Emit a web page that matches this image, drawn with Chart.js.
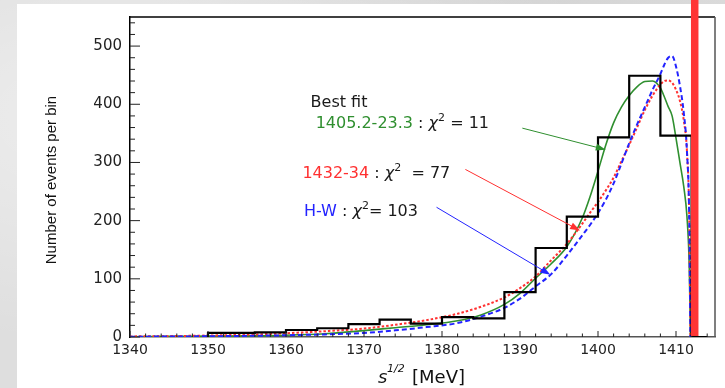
<!DOCTYPE html>
<html>
<head>
<meta charset="utf-8">
<script src="https://cdn.jsdelivr.net/npm/chart.js@4.4.1/dist/chart.umd.min.js"></script>
<style>
  html, body { margin: 0; padding: 0; }
  body {
    width: 725px; height: 388px; overflow: hidden; position: relative;
    background:
      radial-gradient(ellipse at 20% 30%, rgba(255,255,255,0.5), rgba(255,255,255,0) 60%),
      radial-gradient(ellipse at 70% 10%, rgba(200,200,200,0.5), rgba(200,200,200,0) 50%),
      #dedede;
  }
  #panel { position: absolute; left: 17px; top: 4px; width: 708px; height: 384px; background: #fff; }
  #chart { position: absolute; left: 0; top: 0; }
</style>
</head>
<body>
<div id="panel"></div>
<canvas id="chart" width="725" height="388"></canvas>
<script>
// ===========================================================
// DATA
// ===========================================================
const xTicks = [1340, 1350, 1360, 1370, 1380, 1390, 1400, 1410];
const yTicks = [0, 100, 200, 300, 400, 500];

// histogram: bin edges and counts per bin
const histEdges = [1350, 1356, 1360, 1364, 1368, 1372, 1376, 1380, 1384, 1388, 1392, 1396, 1400, 1404, 1408, 1412, 1414];
const histCounts = [7, 8, 12, 15, 22, 30, 23, 34, 32, 77, 153, 207, 343, 449, 346, 0];

// fit curves, sampled at the same masses
const curveX = [1340, 1345, 1350, 1355, 1360, 1365, 1370, 1374, 1378, 1382, 1385, 1388, 1390, 1392, 1394, 1396, 1398, 1399,
  1400, 1401, 1402, 1403, 1404, 1405, 1406, 1407, 1408, 1408.5, 1409, 1409.5, 1410, 1410.5, 1411, 1411.4, 1411.7, 1411.85];
const greenFit = [0.5, 1, 1.5, 2, 3, 5.5, 11, 16, 21, 28, 38, 56, 75, 101, 126, 155, 205, 242,
  285, 330, 368, 395, 415, 430, 439, 440, 428, 413, 396, 380, 342, 300, 258, 208, 120, 0];
const redFit = [1, 1.5, 2.5, 4, 6.5, 10, 14.5, 21, 29, 40, 52, 68, 84, 104, 132, 160, 195, 214,
  232, 252, 274, 302, 330, 360, 390, 415, 434, 440, 441, 437, 425, 406, 372, 320, 200, 0];
const blueFit = [0.5, 0.8, 1.2, 2, 3, 4.5, 7, 11.5, 17, 24, 35, 50, 66, 87, 108, 140, 175, 193,
  213, 236, 264, 298, 333, 365, 395, 425, 452, 468, 480, 483, 465, 432, 385, 320, 200, 0];

const thresholdX = 1412.4; // red vertical line

// ---------- COLOURS / FONTS ----------
const GREEN = "#2f8f2f";
const RED = "#ff3030";
const BLUE = "#2323ff";
const FONT = '"DejaVu Sans"';

// ---------- ANNOTATIONS (anchors in data units) ----------
const labels = [
  { x: 1363.15, y: 403, parts: [{ t: "Best fit" }] },
  { x: 1363.8, y: 366, parts: [{ t: "1405.2-23.3", c: GREEN }, { t: " : " }, { t: "χ", i: true }, { t: "2", sup: true }, { t: " = 11" }] },
  { x: 1362.1, y: 280, parts: [{ t: "1432-34", c: RED }, { t: " : " }, { t: "χ", i: true }, { t: "2", sup: true }, { t: "  = 77" }] },
  { x: 1362.3, y: 215, parts: [{ t: "H-W", c: BLUE }, { t: " : " }, { t: "χ", i: true }, { t: "2", sup: true }, { t: "= 103" }] },
];
const arrows = [
  { from: [1390.3, 359], to: [1401.0, 322], color: GREEN },
  { from: [1383.0, 288], to: [1397.7, 183], color: RED },
  { from: [1379.3, 223], to: [1393.9, 107], color: BLUE },
];

// ===========================================================
// HELPERS
// ===========================================================
function line(ctx, x1, y1, x2, y2) {
  ctx.beginPath();
  ctx.moveTo(x1, y1);
  ctx.lineTo(x2, y2);
  ctx.stroke();
}

function drawArrow(ctx, x1, y1, x2, y2, color) {
  const ang = Math.atan2(y2 - y1, x2 - x1);
  const len = 10, half = 3.5;
  ctx.strokeStyle = color;
  ctx.fillStyle = color;
  ctx.lineWidth = 1;
  line(ctx, x1, y1, x2 - Math.cos(ang) * len * 0.8, y2 - Math.sin(ang) * len * 0.8);
  ctx.beginPath();
  ctx.moveTo(x2, y2);
  ctx.lineTo(x2 - Math.cos(ang) * len - Math.sin(ang) * half, y2 - Math.sin(ang) * len + Math.cos(ang) * half);
  ctx.lineTo(x2 - Math.cos(ang) * len + Math.sin(ang) * half, y2 - Math.sin(ang) * len - Math.cos(ang) * half);
  ctx.closePath();
  ctx.fill();
}

function drawRich(ctx, x, y, parts) {
  let cx = x;
  ctx.textAlign = "left";
  ctx.textBaseline = "middle";
  parts.forEach(p => {
    ctx.font = p.sup ? `11px ${FONT}` : (p.i ? `italic 16px ${FONT}` : `16px ${FONT}`);
    ctx.fillStyle = p.c || "#1a1a1a";
    ctx.fillText(p.t, cx, p.sup ? y - 6 : y);
    cx += ctx.measureText(p.t).width;
  });
}

// ===========================================================
// PLUGIN — frame, inward ticks, titles, notes, threshold
// ===========================================================
const decorPlugin = {
  id: "decor",
  afterDatasetsDraw(chart) {
    const { ctx, chartArea: a, scales: { x, y } } = chart;
    ctx.save();

    // frame (top + right)
    ctx.lineWidth = 1.5;
    ctx.strokeStyle = "#000";
    line(ctx, a.left, a.top, a.right, a.top);
    ctx.strokeStyle = "#555";
    line(ctx, a.right, a.top, a.right, a.bottom);

    // inward ticks
    ctx.lineWidth = 1;
    ctx.strokeStyle = "#222";
    for (let v = 1340; v <= 1414; v += 2) {
      const px = x.getPixelForValue(v);
      line(ctx, px, a.bottom, px, a.bottom - (v % 10 === 0 ? 6 : 3.5));
    }
    for (let v = 0; v <= 540; v += 20) {
      const py = y.getPixelForValue(v);
      line(ctx, a.left, py, a.left + (v % 100 === 0 ? 10 : 5), py);
    }

    // notes + arrows
    labels.forEach(l => drawRich(ctx, x.getPixelForValue(l.x), y.getPixelForValue(l.y), l.parts));
    arrows.forEach(ar => drawArrow(ctx,
      x.getPixelForValue(ar.from[0]), y.getPixelForValue(ar.from[1]),
      x.getPixelForValue(ar.to[0]), y.getPixelForValue(ar.to[1]), ar.color));

    // y title
    ctx.save();
    ctx.translate(52, 180);
    ctx.rotate(-Math.PI / 2);
    ctx.font = '15px "Liberation Sans"';
    ctx.fillStyle = "#111";
    ctx.textAlign = "center";
    ctx.textBaseline = "middle";
    ctx.fillText("Number of events per bin", 0, 0);
    ctx.restore();

    // x title: s^{1/2} [MeV]
    ctx.textAlign = "left";
    ctx.textBaseline = "alphabetic";
    ctx.fillStyle = "#111";
    ctx.font = `italic 18px ${FONT}`;
    ctx.fillText("s", 378, 383);
    ctx.font = `italic 11px ${FONT}`;
    ctx.fillText("1/2", 387, 372);
    ctx.font = `18px ${FONT}`;
    ctx.fillText("[MeV]", 412, 383);

    // threshold bar (runs up past the frame)
    const tx = x.getPixelForValue(thresholdX);
    ctx.fillStyle = "#ff3535";
    ctx.fillRect(tx - 3.75, 0, 7.5, y.getPixelForValue(0) - 1);

    ctx.restore();
  },
};

// ===========================================================
// CHART
// ===========================================================
const histPoints = [{ x: histEdges[0], y: 0 }]
  .concat(histCounts.map((c, i) => ({ x: histEdges[i], y: c })))
  .concat([{ x: histEdges[histEdges.length - 1], y: 0 }]);
const toPoints = vals => vals.map((v, i) => ({ x: curveX[i], y: v }));

new Chart(document.getElementById("chart"), {
  type: "line",
  data: {
    datasets: [
      { data: histPoints, stepped: true, borderColor: "#000", borderWidth: 2.2, order: 0 },
      { data: toPoints(greenFit), borderColor: GREEN, borderWidth: 1.6, cubicInterpolationMode: "monotone", order: 3 },
      { data: toPoints(redFit), borderColor: RED, borderWidth: 2, borderDash: [2.5, 2], cubicInterpolationMode: "monotone", order: 2 },
      { data: toPoints(blueFit), borderColor: BLUE, borderWidth: 2, borderDash: [5, 3], cubicInterpolationMode: "monotone", order: 1 },
    ],
  },
  options: {
    responsive: false,
    animation: false,
    layout: { padding: { top: 12, right: 10, left: 0, bottom: 0 } },
    elements: { point: { radius: 0 } },
    plugins: { legend: { display: false }, tooltip: { enabled: false } },
    scales: {
      x: {
        type: "linear", min: 1340, max: 1415,
        grid: { display: false, drawTicks: false },
        border: { color: "#555", width: 1.5 },
        ticks: {
          autoSkip: false, maxRotation: 0, padding: 5, color: "#222",
          font: { family: "DejaVu Sans", size: 14 },
          callback: v => String(v),
        },
        afterBuildTicks: s => { s.ticks = xTicks.map(v => ({ value: v })); },
        afterFit: s => { s.height = 51; },
      },
      y: {
        min: 0, max: 550,
        grid: { display: false, drawTicks: false },
        border: { color: "#000", width: 1.5 },
        ticks: {
          autoSkip: false, padding: 8, color: "#222",
          font: { family: "DejaVu Sans", size: 15 },
          callback: v => String(v),
        },
        afterBuildTicks: s => { s.ticks = yTicks.map(v => ({ value: v })); },
        afterFit: s => { s.width = 130; },
      },
    },
  },
  plugins: [decorPlugin],
});
</script>
</body>
</html>
